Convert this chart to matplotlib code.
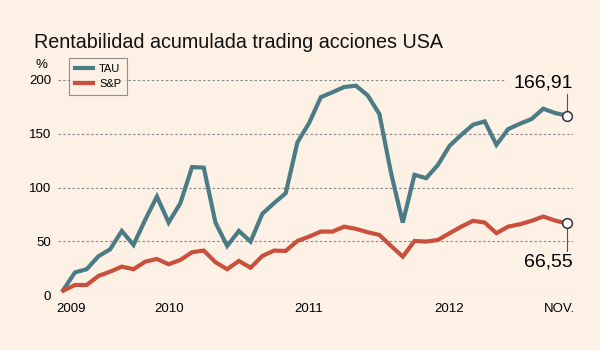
import matplotlib
matplotlib.use("Agg")
import matplotlib.pyplot as plt
import matplotlib.transforms as mtransforms

# data (monthly, abr 2009 - nov 2012)
months = [f"{y}-{m:02d}" for y in range(2009, 2013) for m in range(1, 13)][3:47]
tau = [4.7, 21, 24, 36, 42.5, 59.6, 46.6, 70, 91.6, 67.4, 85.4, 119,
       118.5, 67.4, 45.6, 59.6, 49.7, 75.5, 85.4, 94.7, 142, 160, 184, 188.6,
       193.5, 194.7, 185.7, 168.4, 113.4, 67.4, 111.8, 108.7, 121, 138.8, 149, 158.4,
       161.5, 139.7, 154.3, 159.3, 163.7, 173.3, 169.3, 166.91]
sp = [4, 9.3, 9.3, 17.7, 21.7, 26.4, 24, 31, 33.5, 28.6, 32.6, 39.8,
      41.3, 30.5, 24, 31.7, 25.4, 36.3, 41.3, 41, 50.3, 54.3, 59, 59,
      63.6, 61.5, 58.4, 55.9, 45.6, 35.7, 50.3, 49.7, 51.2, 57.5, 63.6, 69,
      67.4, 57.5, 63.6, 65.8, 69, 73, 69.3, 66.55]
tick_months = ["2009-04", "2010-01", "2011-01", "2012-01", "2012-11"]
tick_labels = ["2009", "2010", "2011", "2012", "NOV."]
yticks = [0, 50, 100, 150, 200]

bg = "#fdf1e6"
c_tau = "#4b7b84"
c_sp = "#c9503c"

plt.rcParams["font.family"] = ["Liberation Sans", "DejaVu Sans"]

fig = plt.figure(figsize=(6, 3.5), dpi=100, facecolor=bg)
ax = fig.add_axes([58 / 600, 1 - 295 / 350, (573 - 58) / 600, (295 - 80) / 350])
ax.set_facecolor(bg)

x = list(range(len(months)))
ax.set_xlim(-0.45, 43.54)
ax.set_ylim(0, 200)

# grid lines (top one stops before the label)
for v in yticks:
    xmax = 0.87 if v == 200 else 1.0
    ax.axhline(v, xmin=0, xmax=xmax, color="#888888", lw=0.8, ls=(0, (2.2, 2)), zorder=1)

ax.plot(x, tau, color=c_tau, lw=3.0, solid_joinstyle="miter", zorder=3, clip_on=False, label="TAU")
ax.plot(x, sp, color=c_sp, lw=3.0, solid_joinstyle="miter", zorder=3, clip_on=False, label="S&P")

for s in ax.spines.values():
    s.set_visible(False)

ax.set_yticks(yticks)
ax.set_yticklabels([str(v) for v in yticks], fontsize=9.5)
ax.tick_params(axis="y", length=0, pad=5)

xt = [months.index(m) for m in tick_months]
ax.set_xticks(xt)
ax.set_xticklabels(tick_labels, fontsize=9.5)
ax.tick_params(axis="x", length=0, pad=6)
labs = ax.get_xticklabels()
labs[0].set_transform(labs[0].get_transform() + mtransforms.ScaledTranslation(8 / 100, 0, fig.dpi_scale_trans))
labs[-1].set_transform(labs[-1].get_transform() + mtransforms.ScaledTranslation(-7 / 100, 0, fig.dpi_scale_trans))

fig.text(34 / 600, 1 - 48 / 350, "Rentabilidad acumulada trading acciones USA", fontsize=14.2, color="#111111")
fig.text(36 / 600, 1 - 68 / 350, "%", fontsize=9.5)

leg = ax.legend(loc="upper left", bbox_to_anchor=(69 / 600, 1 - 58 / 350), bbox_transform=fig.transFigure,
                fontsize=8, frameon=True, fancybox=False, handlelength=1.6, borderpad=0.55,
                labelspacing=0.45, handletextpad=0.55, borderaxespad=0)
leg.get_frame().set_facecolor(bg)
leg.get_frame().set_edgecolor("#777777")
leg.get_frame().set_linewidth(0.8)

# end values
last = len(x) - 1
ax.plot([last, last], [tau[-1], tau[-1] + 20], color="#555555", lw=0.8, zorder=4, clip_on=False)
ax.plot([last, last], [sp[-1], sp[-1] - 26], color="#555555", lw=0.8, zorder=4, clip_on=False)
ax.plot([last], [tau[-1]], "o", ms=7, mfc="white", mec="#333333", mew=1.1, zorder=5, clip_on=False)
ax.plot([last], [sp[-1]], "o", ms=7, mfc="white", mec="#333333", mew=1.1, zorder=5, clip_on=False)
ax.text(last + 0.55, tau[-1] + 22, f"{tau[-1]:.2f}".replace(".", ","), ha="right", va="bottom", fontsize=14)
ax.text(last + 0.55, sp[-1] - 28, f"{sp[-1]:.2f}".replace(".", ","), ha="right", va="top", fontsize=14)

fig.savefig("out.png", dpi=100, facecolor=bg)
